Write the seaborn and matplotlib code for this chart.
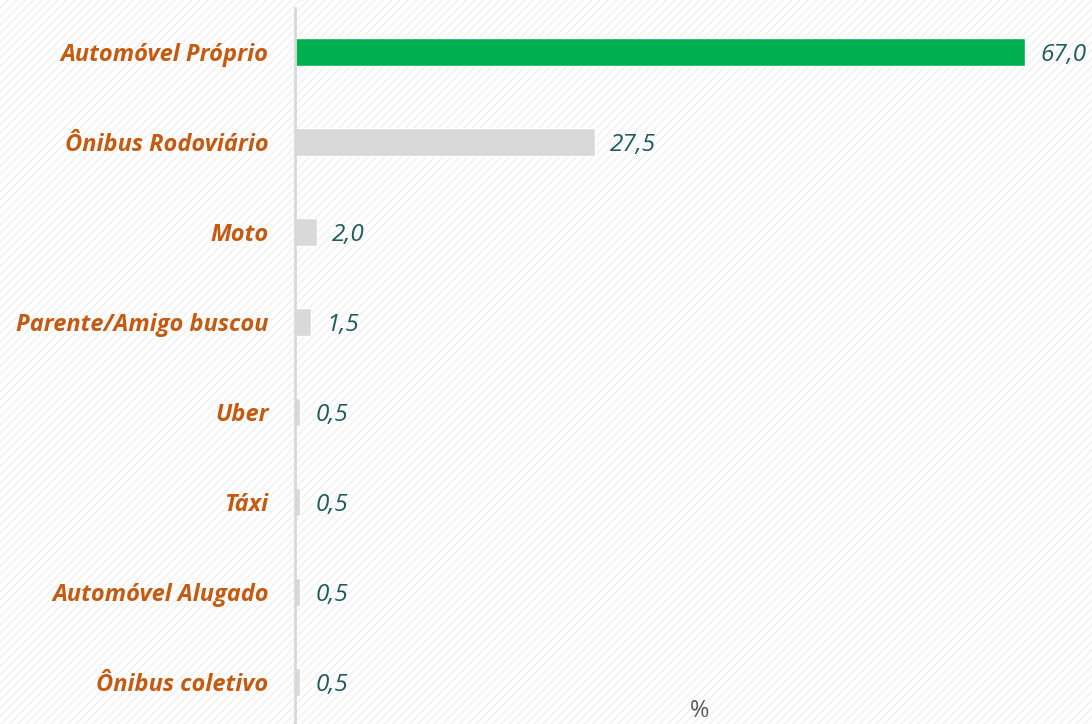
import matplotlib
matplotlib.use("Agg")
import matplotlib.pyplot as plt
import seaborn as sns
import pandas as pd
from matplotlib.patches import Rectangle

categories = ["Automóvel Próprio", "Ônibus Rodoviário", "Moto", "Parente/Amigo buscou",
              "Uber", "Táxi", "Automóvel Alugado", "Ônibus coletivo"]
values = [67.0, 27.5, 2.0, 1.5, 0.5, 0.5, 0.5, 0.5]
value_labels = ["67,0", "27,5", "2,0", "1,5", "0,5", "0,5", "0,5", "0,5"]
axis_label = "%"

df = pd.DataFrame({"cat": categories, "val": values})
colors = ["#00B050"] + ["#D9D9D9"] * (len(categories) - 1)

sns.set_style("white")
plt.rcParams["font.family"] = ["Open Sans", "DejaVu Sans"]
plt.rcParams["hatch.color"] = "#F0F0F0"
plt.rcParams["hatch.linewidth"] = 1.0

fig = plt.figure(figsize=(10.92, 7.24), dpi=100)
fig.patch.set_facecolor("white")
bg = Rectangle((0, 0), 1, 1, transform=fig.transFigure, facecolor="white",
               edgecolor="#F0F0F0", hatch="////", linewidth=0, zorder=-10)
fig.patches.append(bg)

ax = fig.add_axes([295 / 1092, 0, (1092 - 295) / 1092, (724 - 8) / 724])
ax.patch.set_alpha(0)

sns.barplot(data=df, y="cat", x="val", hue="cat", palette=colors, legend=False,
            orient="h", width=0.31, ax=ax, saturation=1)

ax.set_xlim(0, (1092 - 295) / 10.896)
ax.set_ylim((724 - 52) / 90, (8 - 52) / 90)

for i, (v, lab) in enumerate(zip(values, value_labels)):
    ax.annotate(lab, xy=(v, i), xytext=(11, -2), textcoords="offset points",
                ha="left", va="center", fontsize=17.5, style="italic",
                color="#1F5C5C")

ax.set_xlabel("")
ax.set_ylabel("")
ax.set_xticks([])
ax.tick_params(axis="y", length=0, pad=19)
for lbl in ax.get_yticklabels():
    lbl.set_fontsize(17)
    lbl.set_fontweight("bold")
    lbl.set_fontstyle("italic")
    lbl.set_color("#C55A11")

for s in ["top", "right", "bottom"]:
    ax.spines[s].set_visible(False)
ax.spines["left"].set_color("#D9D9D9")
ax.spines["left"].set_linewidth(2)

fig.text(700 / 1092, 1 - 711 / 724, axis_label, ha="center", va="center",
         fontsize=17, color="#595959")

fig.savefig("out.png", dpi=100)
